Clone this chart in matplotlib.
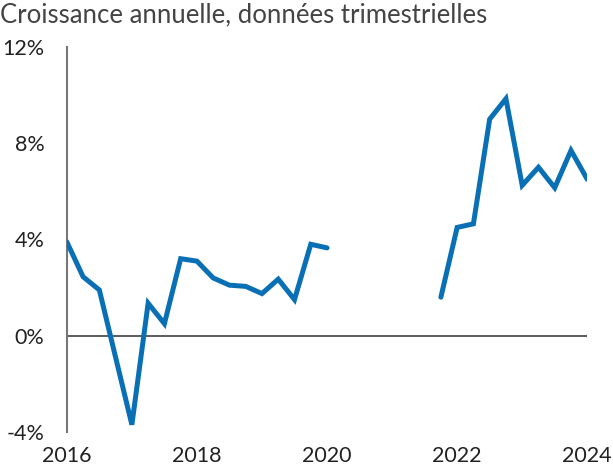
import numpy as np
import matplotlib.pyplot as plt

plt.rcParams['font.family'] = ['Lato', 'DejaVu Sans']

# ===== data (quarterly, annual growth %) =====
quarters = np.arange(2016.0, 2024.01, 0.25)
growth = [3.9, 2.45, 1.9, -0.9, -3.7, 1.35, 0.5, 3.2,
          3.1, 2.4, 2.1, 2.05, 1.75, 2.35, 1.5, 3.8,
          3.65, np.nan, np.nan, np.nan, np.nan, np.nan, np.nan, 1.6,
          4.5, 4.65, 9.0, 9.85, 6.25, 7.0, 6.15, 7.7,
          6.5]
x_ticks = [2016, 2018, 2020, 2022, 2024]
y_ticks = [-4, 0, 4, 8, 12]
y_labels = ['-4%', '0%', '4%', '8%', '12%']
title = 'Croissance annuelle, données trimestrielles'

fig = plt.figure(figsize=(6.13, 4.70), dpi=100)
ax = fig.add_axes([0.109, 0.081, 0.849, 0.819])

ax.plot(quarters, growth, color='#0a70b6', linewidth=3.6,
        solid_joinstyle='miter', solid_capstyle='round', zorder=3)
ax.axhline(0, color='#404040', linewidth=1.2, zorder=2)

ax.set_xlim(2016, 2024)
ax.set_ylim(-4, 12)
ax.set_xticks(x_ticks)
ax.set_xticklabels([str(t) for t in x_ticks])
ax.set_yticks(y_ticks)
ax.set_yticklabels(y_labels)
ax.tick_params(length=0, labelsize=15.5, colors='#222222')
ax.tick_params(axis='x', pad=10)
ax.tick_params(axis='y', pad=16)

for s in ['top', 'right', 'bottom']:
    ax.spines[s].set_visible(False)
ax.spines['left'].set_color('#777777')
ax.spines['left'].set_linewidth(1.5)

fig.text(0.0, 0.995, title, ha='left', va='top', fontsize=18.5,
         color='#444444')

fig.savefig('out.png', dpi=100)
